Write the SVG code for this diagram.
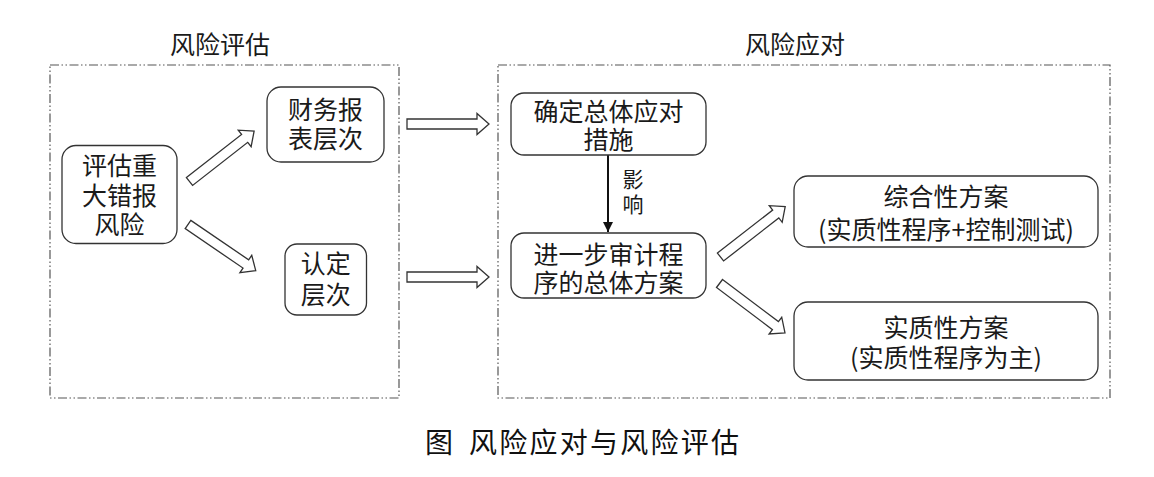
<svg xmlns="http://www.w3.org/2000/svg" xmlns:xlink="http://www.w3.org/1999/xlink" width="1154" height="477" viewBox="0 0 1154 477">
<style>
.frame{fill:none;stroke:#555;stroke-width:1.2;stroke-dasharray:9 2.5 1.5 2.5 1.5 2.5}
.node{fill:#fff;stroke:#333;stroke-width:1.3}
.t{font-family:"Noto Sans CJK SC","Noto Sans",sans-serif;font-size:25px;fill:#1a1a1a;text-anchor:middle}
.small{font-size:21px}
.cap{font-family:"Noto Sans CJK SC",serif;font-size:28px;fill:#111}
.hollow{fill:#fff;stroke:#333;stroke-width:1.3;stroke-linejoin:miter}
.line{stroke:#111;stroke-width:2;fill:none}
</style>
<defs>
<path id="harrow" d="M0,-5 H70 V-10.5 L82,0 L70,10.5 V5 H0 Z"/>
<marker id="tri" viewBox="0 0 10 10" refX="10" refY="5" markerWidth="5" markerHeight="5" markerUnits="strokeWidth" orient="auto">
<path d="M0,0 L10,5 L0,10 Z" fill="#111"/>
</marker>
</defs>

<g id="frames">
<rect class="frame" x="50" y="65" width="349" height="333"/>
<rect class="frame" x="498" y="65" width="612" height="333"/>
<text class="t" x="220" y="54">风险评估</text>
<text class="t" x="795" y="54">风险应对</text>
</g>

<g id="connectors">
<use xlink:href="#harrow" class="hollow" transform="translate(189.5,181.5) rotate(-38)"/>
<use xlink:href="#harrow" class="hollow" transform="translate(188,224.5) rotate(34.3)"/>
<use xlink:href="#harrow" class="hollow" transform="translate(407,124)"/>
<use xlink:href="#harrow" class="hollow" transform="translate(407,277)"/>
<use xlink:href="#harrow" class="hollow" transform="translate(720.5,257) rotate(-37.9)"/>
<use xlink:href="#harrow" class="hollow" transform="translate(719.5,283.5) rotate(37)"/>
<line class="line" x1="608" y1="155" x2="608" y2="232" marker-end="url(#tri)"/>
<text class="t small" x="633" y="187">影</text>
<text class="t small" x="633" y="212">响</text>
</g>

<g id="n-risk">
<rect class="node" x="62" y="145.5" width="115" height="98" rx="14"/>
<text class="t" x="119.5" y="175">评估重</text>
<text class="t" x="119.5" y="205">大错报</text>
<text class="t" x="119.5" y="234">风险</text>
</g>

<g id="n-fs">
<rect class="node" x="267" y="87" width="117" height="75" rx="14"/>
<text class="t" x="325.5" y="119">财务报</text>
<text class="t" x="325.5" y="148">表层次</text>
</g>

<g id="n-assert">
<rect class="node" x="285" y="244" width="81.5" height="71" rx="12"/>
<text class="t" x="325.75" y="273">认定</text>
<text class="t" x="325.75" y="304">层次</text>
</g>

<g id="n-overall">
<rect class="node" x="511" y="93" width="195" height="62" rx="13"/>
<text class="t" x="608.5" y="121">确定总体应对</text>
<text class="t" x="608.5" y="149">措施</text>
</g>

<g id="n-further">
<rect class="node" x="511" y="233" width="195" height="65" rx="13"/>
<text class="t" x="608.5" y="264">进一步审计程</text>
<text class="t" x="608.5" y="292">序的总体方案</text>
</g>

<g id="n-combined">
<rect class="node" x="794" y="176" width="304" height="71" rx="14"/>
<text class="t" x="946" y="206">综合性方案</text>
<text class="t" x="946" y="239">(实质性程序+控制测试)</text>
</g>

<g id="n-substantive">
<rect class="node" x="794" y="302" width="304" height="78" rx="14"/>
<text class="t" x="946" y="337">实质性方案</text>
<text class="t" x="946" y="367">(实质性程序为主)</text>
</g>

<g id="caption">
<text class="cap" x="425" y="453">图</text>
<text class="cap" x="469" y="453" textLength="270" lengthAdjust="spacing">风险应对与风险评估</text>
</g>
</svg>
